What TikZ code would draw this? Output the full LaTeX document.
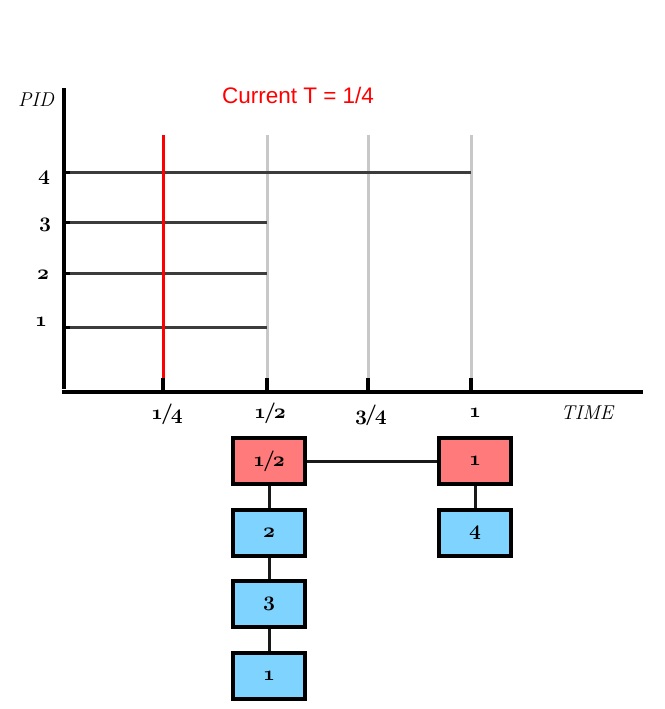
\documentclass[tikz,border=0pt]{standalone}
\usepackage{fontspec}
\newfontfamily\labelsans{Liberation Sans}
\definecolor{boxred}{RGB}{255,122,122}
\definecolor{boxblue}{RGB}{126,212,255}
\definecolor{pidline}{RGB}{60,60,60}
\definecolor{timegrey}{RGB}{200,200,200}
% OML encoding: digits are old-style, '=' is the slash
\newcommand{\osd}[1]{{\usefont{OML}{cmm}{b}{it}#1}}
\newcommand{\osfrac}[2]{\osd{#1}\kern-2pt\osd{=}\kern-2pt\osd{#2}}
\begin{document}
\begin{tikzpicture}[x=1pt,y=-1pt,
  axisline/.style={line width=4pt,black},
  tickline/.style={line width=4pt,black},
  pidbar/.style={line width=3pt,pidline},
  timemark/.style={line width=3pt,timegrey},
  nowmark/.style={line width=3pt,red},
  ticklabel/.style={inner sep=0pt,font=\fontsize{20.74}{21}\selectfont},
  queuebox/.style={draw=black,line width=3.5pt,minimum width=72pt,minimum height=46pt,inner sep=0pt,font=\fontsize{20.74}{21}\selectfont},
  redbox/.style={queuebox,fill=boxred},
  bluebox/.style={queuebox,fill=boxblue},
  link/.style={line width=3pt,black!90}]
\useasboundingbox (0,0) rectangle (664,709);
% axes coordinates
\coordinate (ytop) at (64,88);
\coordinate (ybot) at (64,389);
\coordinate (xl) at (62,392);
\coordinate (xr) at (643,392);
% time grid lines
\foreach \n/\x in {b/267,c/368,d/471}{
  \coordinate (g\n t) at (\x,135);
  \coordinate (g\n b) at (\x,380);
  \draw[timemark] (g\n t) -- (g\n b);
}
% pid bars
\foreach \n/\y/\e in {p4/172/471,p3/222/267,p2/273/267,p1/327/267}{
  \coordinate (\n s) at (64,\y);
  \coordinate (\n e) at (\e,\y);
  \draw[pidbar] (\n s) -- (\n e);
  \coordinate (\n k) at (70,\y);
  \draw[line width=3pt,black] (\n s) -- (\n k);
}
% current time marker
\coordinate (rt) at (163,135);
\coordinate (rb) at (163,392);
\draw[nowmark] (rt) -- (rb);
% axes
\draw[axisline] (ytop) -- (ybot);
\draw[line width=3.5pt,black] (xl) -- (xr);
\foreach \n/\x in {a/163,b/267,c/368,d/471}{
  \coordinate (t\n t) at (\x,378);
  \coordinate (t\n b) at (\x,392);
  \draw[tickline] (t\n t) -- (t\n b);
}
% labels
\node[inner sep=0pt,font=\fontsize{20}{20}\selectfont\itshape] (pid) at (36,100) {PID};
\node[inner sep=0pt,font=\fontsize{20}{20}\selectfont\itshape] (time) at (587,413) {TIME};
\node[ticklabel] (l4) at (44,178) {\osd{4}};
\node[ticklabel] (l3) at (45,225) {\osd{3}};
\node[ticklabel] (l2) at (43,275) {\osd{2}};
\node[ticklabel] (l1) at (41,322) {\osd{1}};
\node[ticklabel] (x1) at (167,414) {\osfrac{1}{4}};
\node[ticklabel] (x2) at (270,413) {\osfrac{1}{2}};
\node[ticklabel] (x3) at (371,415) {\osfrac{3}{4}};
\node[ticklabel] (x4) at (475,413) {\osd{1}};
\node[inner sep=0pt,text=red,font=\labelsans\fontsize{22.5}{22.5}\selectfont] (cur) at (298,95) {Current T = 1/4};
% queue boxes
\node[redbox] (h1) at (269,461) {\osfrac{1}{2}};
\node[bluebox] (q2) at (269,533) {\osd{2}};
\node[bluebox] (q3) at (269,604) {\osd{3}};
\node[bluebox] (q1) at (269,676) {\osd{1}};
\node[redbox] (h2) at (475,461) {\osd{1}};
\node[bluebox] (q4) at (475,533) {\osd{4}};
\draw[link] (h1) -- (h2);
\draw[link] (h1) -- (q2);
\draw[link] (q2) -- (q3);
\draw[link] (q3) -- (q1);
\draw[link] (h2) -- (q4);
\end{tikzpicture}
\end{document}
